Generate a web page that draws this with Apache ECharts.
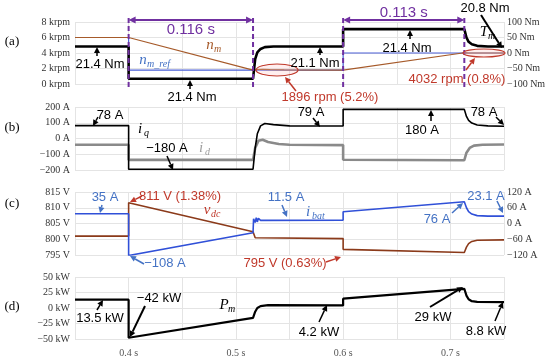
<!DOCTYPE html>
<html><head><meta charset="utf-8">
<script src="https://cdn.jsdelivr.net/npm/echarts@6/dist/echarts.min.js"></script>
<style>html,body{margin:0;padding:0;background:#fff}#c{width:550px;height:359px}</style>
</head><body><div id="c"></div>
<script>
// ---- data (time in s) ----
const xLabels = [0.4, 0.5, 0.6, 0.7];
const eventTimes = [0.4, 0.516, 0.6, 0.713];
const speedRef = [[0.35,6000],[0.4,6000],[0.4,1800],[0.6,1800],[0.6,4000],[0.75,4000]];
const speed = [[0.35,6000],[0.4,6000],[0.516,1800],[0.52,1870],[0.525,1896],[0.532,1860],[0.545,1810],[0.6,1800],[0.713,4032],[0.716,4010],[0.75,4000]];
const torque = [[0.35,21],[0.4,21],[0.4,-83],[0.516,-83],[0.518,-20],[0.52,2],[0.523,13],[0.527,19],[0.535,21],[0.6,21],[0.6,77],[0.713,77],[0.715,50],[0.717,36],[0.72,28],[0.725,23],[0.735,21],[0.75,21]];
const iq = [[0.35,82],[0.4,82],[0.4,-195],[0.516,-195],[0.518,-60],[0.52,30],[0.523,80],[0.527,95],[0.535,88],[0.55,80],[0.6,79],[0.6,185],[0.713,185],[0.715,140],[0.717,115],[0.72,98],[0.725,86],[0.735,80],[0.75,78]];
const id = [[0.35,-40],[0.4,-40],[0.4,-136],[0.516,-136],[0.518,-60],[0.521,-15],[0.525,-8],[0.53,-22],[0.54,-35],[0.55,-40],[0.6,-42],[0.6,-135],[0.713,-138],[0.715,-90],[0.718,-60],[0.722,-45],[0.73,-40],[0.75,-38]];
const vdc = [[0.35,801],[0.4,801],[0.4,811.6],[0.516,802.4],[0.518,800.5],[0.6,800.2],[0.6,796.8],[0.713,795.8],[0.715,797.5],[0.717,798.6],[0.72,799.3],[0.725,799.7],[0.75,799.8]];
const ibat = [[0.35,37],[0.4,37],[0.4,-122],[0.516,-35],[0.5165,18],[0.518,4],[0.519,22],[0.52,6],[0.521,20],[0.523,12],[0.6,13],[0.6,45],[0.713,83],[0.715,60],[0.717,45],[0.72,36],[0.725,30],[0.735,28],[0.75,28]];
const pm = [[0.35,13.5],[0.4,13.5],[0.4,-48],[0.516,-16],[0.518,-6],[0.52,0],[0.523,3],[0.53,4.5],[0.6,4.2],[0.6,15],[0.713,31],[0.715,20],[0.717,14],[0.72,11],[0.725,10],[0.75,9.5]];

const MINUS = '\u2212';
const fmt = (v, unit, div) => { const n = div ? v / div : v; return (n < 0 ? MINUS + Math.abs(n) : n) + ' ' + unit; };

const chart = echarts.init(document.getElementById('c'), null, {renderer: 'canvas'});
const tops = [22, 107, 192, 277];
const heights = [62, 63, 63, 62];
const gridCol = '#e4e4e4';
const axLab = {fontFamily: '"Liberation Serif", serif', fontSize: 10, color: '#333'};

const grids = tops.map((t, i) => ({left: 75, right: 46, top: t, height: heights[i]}));
const xAxes = tops.map((t, i) => ({
  type: 'value', gridIndex: i, min: 0.35, max: 0.75, interval: 0.05,
  axisLine: {show: false}, axisTick: {show: false},
  splitLine: {show: true, lineStyle: {color: gridCol}},
  axisLabel: {show: i === 3, ...axLab, color: '#555', margin: 9,
    formatter: v => xLabels.some(x => Math.abs(x - v) < 1e-6) ? v.toFixed(1) + ' s' : ''}
}));
function yAx(grid, min, max, interval, unit, div, pos) {
  return {type: 'value', gridIndex: grid, min, max, interval, position: pos || 'left',
    axisLine: {show: false}, axisTick: {show: false},
    splitLine: {show: pos !== 'right', lineStyle: {color: gridCol}},
    axisLabel: {...axLab, margin: pos === 'right' ? 3 : 5, formatter: v => fmt(v, unit, div)}};
}
const yAxes = [
  yAx(0, 0, 8000, 2000, 'krpm', 1000),
  yAx(0, -100, 100, 50, 'Nm', 0, 'right'),
  yAx(1, -200, 200, 100, 'A'),
  yAx(2, 795, 815, 5, 'V'),
  yAx(2, -120, 120, 60, 'A', 0, 'right'),
  yAx(3, -50, 50, 25, 'kW')
];
function ser(data, x, y, color, w) {
  return {type: 'line', data, xAxisIndex: x, yAxisIndex: y, symbol: 'none', animation: false,
    lineStyle: {color, width: w}, z: 3};
}
chart.setOption({
  animation: false,
  grid: grids, xAxis: xAxes, yAxis: yAxes,
  series: [
    ser(speedRef, 0, 0, '#4a5fd8', 1.2),
    ser(speed, 0, 0, '#a65a2a', 1.2),
    ser(torque, 0, 1, '#000', 2.6),
    ser(id, 1, 2, '#8a8a8a', 2.6),
    ser(iq, 1, 2, '#000', 1.6),
    ser(vdc, 2, 3, '#8b3a1a', 1.6),
    ser(ibat, 2, 4, '#3050d8', 1.6),
    ser(pm, 3, 5, '#000', 2.2)
  ]
});

// ---- annotations ----
const SANS = '"Liberation Sans", Arial, sans-serif';
const SERIF = '"Liberation Serif", serif';
const PURPLE = '#7030a0', RED = '#c0392b', BLUE = '#4472c4', BLK = '#000';
const G = [];
function txt(x, y, s, color, size, family, italic) {
  G.push({type: 'text', x, y, z: 10, style: {text: s, fill: color,
    font: (italic ? 'italic ' : '') + (size || 13) + 'px ' + (family || SANS),
    textAlign: 'center', textVerticalAlign: 'middle'}});
}
function arrow(x1, y1, x2, y2, color, w) {
  w = w || 1.5;
  const dx = x2 - x1, dy = y2 - y1, L = Math.hypot(dx, dy), ux = dx / L, uy = dy / L;
  const hl = 6, hw = 3;
  const bx = x2 - ux * hl, by = y2 - uy * hl;
  G.push({type: 'line', z: 10, shape: {x1, y1, x2: bx, y2: by}, style: {stroke: color, lineWidth: w}});
  G.push({type: 'polygon', z: 10, shape: {points: [[x2, y2], [bx - uy * hw, by + ux * hw], [bx + uy * hw, by - ux * hw]]}, style: {fill: color}});
}
function sym(x, y, main, sub, color) {
  txt(x, y, main, color, 15, SERIF, true);
  G.push({type: 'text', x: x + 4, y: y + 4, z: 10, style: {text: sub, fill: color,
    font: 'italic 10px ' + SERIF, textAlign: 'left', textVerticalAlign: 'middle'}});
}
const px = t => chart.convertToPixel({xAxisIndex: 0}, t);
const ex = eventTimes.map(px);

// purple dashed verticals and spans
ex.forEach(x => G.push({type: 'line', z: 9, shape: {x1: x, y1: 18, x2: x, y2: 89},
  style: {stroke: PURPLE, lineWidth: 2, lineDash: [5, 3]}}));
function span(xa, xb, y, label, ty) {
  G.push({type: 'line', z: 10, shape: {x1: xa + 5, y1: y, x2: xb - 5, y2: y}, style: {stroke: PURPLE, lineWidth: 2}});
  G.push({type: 'polygon', z: 10, shape: {points: [[xa, y], [xa + 7, y - 3.5], [xa + 7, y + 3.5]]}, style: {fill: PURPLE}});
  G.push({type: 'polygon', z: 10, shape: {points: [[xb, y], [xb - 7, y - 3.5], [xb - 7, y + 3.5]]}, style: {fill: PURPLE}});
  txt((xa + xb) / 2, ty, label, PURPLE, 15);
}
span(ex[0], ex[1], 20, '0.116 s', 30);
span(ex[2], ex[3], 20, '0.113 s', 13);

// panel labels
[['(a)', 42], ['(b)', 128], ['(c)', 204], ['(d)', 307]].forEach(([s, y]) => txt(12, y, s, BLK, 13, SERIF));

// panel a
txt(100, 64, '21.4 Nm', BLK); arrow(97, 56, 97, 47, BLK);
sym(143, 60, 'n', 'm_ref', BLUE);
sym(210, 45, 'n', 'm', '#a65a2a');
txt(192, 97, '21.4 Nm', BLK); arrow(190, 89, 190, 80, BLK);
txt(315, 63, '21.1 Nm', BLK); arrow(320, 55, 320, 47, BLK);
txt(407, 48, '21.4 Nm', BLK); arrow(410, 39, 410, 30, BLK);
txt(485, 8, '20.8 Nm', BLK); arrow(481, 15, 502, 48, BLK, 2);
sym(484, 32, 'T', 'm', BLK);
G.push({type: 'ellipse', z: 9, shape: {cx: 277, cy: 70, rx: 21, ry: 6}, style: {stroke: RED, lineWidth: 1.2, fill: 'rgba(255,190,190,0.25)'}});
G.push({type: 'ellipse', z: 9, shape: {cx: 484, cy: 53, rx: 21, ry: 4}, style: {stroke: RED, lineWidth: 1.2, fill: 'rgba(255,190,190,0.25)'}});
txt(330, 97, '1896 rpm (5.2%)', RED); arrow(296, 91, 285, 77, RED);
txt(457, 79, '4032 rpm (0.8%)', RED); arrow(466, 70, 475, 58, RED);

// panel b
txt(110, 115, '78 A', BLK); arrow(98, 117, 93, 126, BLK);
sym(140, 129, 'i', 'q', BLK);
txt(167, 148, MINUS + '180 A', BLK); arrow(167, 156, 173, 170, BLK);
sym(201, 148, 'i', 'd', '#a0a0a0');
txt(311, 112, '79 A', BLK); arrow(313, 118, 320, 127, BLK);
txt(422, 130, '180 A', BLK); arrow(431, 121, 431, 110, BLK);
txt(484, 112, '78 A', BLK); arrow(496, 117, 504, 125, BLK);

// panel c
txt(105, 197, '35 A', BLUE); arrow(102, 205, 100, 213, BLUE);
txt(180, 196, '811 V (1.38%)', RED); arrow(142, 196, 130, 202, RED);
sym(207, 210, 'v', 'dc', RED);
txt(165, 263, MINUS + '108 A', BLUE); arrow(144, 264, 130, 256, BLUE);
txt(285, 263, '795 V (0.63%)', RED); arrow(326, 262, 341, 257, RED);
txt(286, 197, '11.5 A', BLUE); arrow(282, 205, 287, 217, BLUE);
sym(308, 212, 'i', 'bat', BLUE);
txt(437, 219, '76 A', BLUE); arrow(452, 213, 463, 203, BLUE);
txt(486, 196, '23.1 A', BLUE); arrow(497, 201, 503, 213, BLUE);

// panel d
txt(100, 318, '13.5 kW', BLK); arrow(97, 310, 103, 300, BLK);
txt(159, 298, MINUS + '42 kW', BLK); arrow(145, 306, 130, 337, BLK, 2);
sym(224, 305, 'P', 'm', BLK);
txt(319, 332, '4.2 kW', BLK); arrow(319, 322, 327, 305, BLK);
txt(433, 317, '29 kW', BLK); arrow(430, 307, 463, 287, BLK, 2);
txt(486, 331, '8.8 kW', BLK); arrow(495, 321, 503, 302, BLK);

chart.setOption({graphic: G});
</script></body></html>
